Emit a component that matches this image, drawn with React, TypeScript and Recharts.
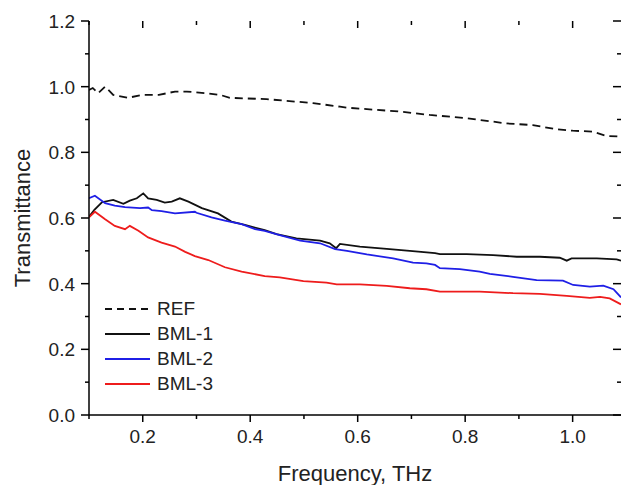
import { LineChart, Line, XAxis, YAxis } from 'recharts'

const FONT = '"Liberation Sans", Arial, sans-serif'
const PLOT_TOP = 21
const PLOT_RIGHT = 621

// Frequency (THz) / transmittance, one pair of arrays per curve
const refFreq = [0.1, 0.107, 0.117, 0.13, 0.145, 0.172, 0.2, 0.23, 0.26, 0.282, 0.319, 0.344, 0.362, 0.43, 0.517, 0.567, 0.58, 0.679, 0.734, 0.803, 0.877, 0.926, 0.97, 1.0, 1.037, 1.063, 1.09]
const refT = [0.99, 0.996, 0.98, 1.0, 0.975, 0.966, 0.975, 0.975, 0.985, 0.985, 0.98, 0.975, 0.966, 0.962, 0.95, 0.939, 0.936, 0.924, 0.914, 0.904, 0.888, 0.883, 0.87, 0.866, 0.863, 0.85, 0.848]

const bml1Freq = [0.1, 0.11, 0.124, 0.145, 0.164, 0.176, 0.189, 0.201, 0.21, 0.226, 0.241, 0.254, 0.269, 0.285, 0.31, 0.34, 0.365, 0.39, 0.427, 0.449, 0.486, 0.53, 0.548, 0.56, 0.567, 0.604, 0.654, 0.697, 0.744, 0.753, 0.803, 0.852, 0.896, 0.939, 0.976, 0.989, 0.998, 1.045, 1.082, 1.09]
const bml1T = [0.604, 0.625, 0.648, 0.655, 0.643, 0.653, 0.66, 0.675, 0.66, 0.655, 0.647, 0.65, 0.66, 0.65, 0.63, 0.614, 0.589, 0.579, 0.563, 0.551, 0.538, 0.531, 0.523, 0.508, 0.521, 0.513, 0.506, 0.5, 0.493, 0.49, 0.49, 0.487, 0.482, 0.482, 0.479, 0.47, 0.477, 0.477, 0.474, 0.47]

const bml2Freq = [0.1, 0.111, 0.13, 0.148, 0.167, 0.195, 0.21, 0.217, 0.235, 0.26, 0.297, 0.3, 0.328, 0.353, 0.384, 0.409, 0.427, 0.455, 0.493, 0.53, 0.558, 0.58, 0.617, 0.666, 0.703, 0.728, 0.744, 0.753, 0.79, 0.827, 0.846, 0.889, 0.933, 0.982, 1.001, 1.032, 1.057, 1.076, 1.09]
const bml2T = [0.66, 0.668, 0.645, 0.638, 0.633, 0.63, 0.632, 0.624, 0.621, 0.614, 0.619, 0.616, 0.602, 0.592, 0.581, 0.566, 0.561, 0.548, 0.531, 0.523, 0.505, 0.5, 0.489, 0.477, 0.464, 0.462, 0.457, 0.447, 0.444, 0.437, 0.43, 0.421, 0.411, 0.409, 0.396, 0.391, 0.394, 0.383, 0.358]

const bml3Freq = [0.1, 0.111, 0.13, 0.148, 0.167, 0.176, 0.192, 0.21, 0.235, 0.26, 0.279, 0.297, 0.322, 0.353, 0.384, 0.427, 0.455, 0.499, 0.542, 0.561, 0.604, 0.654, 0.697, 0.728, 0.753, 0.827, 0.889, 0.939, 0.989, 1.032, 1.051, 1.069, 1.09]
const bml3T = [0.602, 0.619, 0.596, 0.576, 0.566, 0.576, 0.561, 0.541, 0.525, 0.513, 0.497, 0.484, 0.472, 0.45, 0.437, 0.423, 0.419, 0.408, 0.403, 0.398, 0.398, 0.393, 0.386, 0.383, 0.376, 0.376, 0.371, 0.369, 0.363, 0.357, 0.36, 0.355, 0.337]

const xTicks = [0.1, 0.2, 0.3, 0.4, 0.5, 0.6, 0.7, 0.8, 0.9, 1.0]
const yTicks = [0, 0.1, 0.2, 0.3, 0.4, 0.5, 0.6, 0.7, 0.8, 0.9, 1.0, 1.1, 1.2]

const SERIES = [
  { name: 'REF', freq: refFreq, vals: refT, color: '#111111', dash: '8 5' },
  { name: 'BML-1', freq: bml1Freq, vals: bml1T, color: '#111111', dash: undefined },
  { name: 'BML-2', freq: bml2Freq, vals: bml2T, color: '#1f1fe6', dash: undefined },
  { name: 'BML-3', freq: bml3Freq, vals: bml3T, color: '#ee1c1c', dash: undefined },
]

const zip = (f: number[], v: number[]) => f.map((x, i) => ({ f: x, t: v[i] }))
const isMajor = (v: number) => Math.round(v * 10) % 2 === 0

// bottom tick + label, plus the mirrored inward tick on the top frame
// eslint-disable-next-line @typescript-eslint/no-explicit-any
function BottomTick({ x, y, payload }: any) {
  const major = isMajor(payload.value)
  const len = major ? 7 : 4
  return (
    <g>
      <line x1={x} x2={x} y1={y} y2={y + len} stroke="#000" strokeWidth={1.5} />
      <line x1={x} x2={x} y1={PLOT_TOP} y2={PLOT_TOP + len} stroke="#000" strokeWidth={1.5} />
      {major && (
        <text x={x} y={y + 28} textAnchor="middle" fontSize={19} fontFamily={FONT} fill="#222">
          {payload.value.toFixed(1)}
        </text>
      )}
    </g>
  )
}

// left tick + label, plus the mirrored inward tick on the right frame
// eslint-disable-next-line @typescript-eslint/no-explicit-any
function LeftTick({ x, y, payload }: any) {
  const major = isMajor(payload.value)
  const len = major ? 8 : 4
  return (
    <g>
      <line x1={x - len} x2={x} y1={y} y2={y} stroke="#000" strokeWidth={1.5} />
      <line x1={PLOT_RIGHT - len} x2={PLOT_RIGHT} y1={y} y2={y} stroke="#000" strokeWidth={1.5} />
      {major && (
        <text x={x - 14} y={y} dy="0.36em" textAnchor="end" fontSize={19} fontFamily={FONT} fill="#222">
          {payload.value.toFixed(1)}
        </text>
      )}
    </g>
  )
}

function LegendBox() {
  return (
    <div style={{ position: 'absolute', left: 105, top: 296, fontFamily: FONT, fontSize: 19, color: '#222' }}>
      {SERIES.map((s) => (
        <div key={s.name} style={{ display: 'flex', alignItems: 'center', height: 25 }}>
          <svg width={52} height={10}>
            <line x1={0} x2={45} y1={5} y2={5} stroke={s.color} strokeWidth={2} strokeDasharray={s.dash ? '7 5' : undefined} />
          </svg>
          <span>{s.name}</span>
        </div>
      ))}
    </div>
  )
}

export default function App() {
  return (
    <div style={{ position: 'absolute', left: 0, top: 0, width: 624, height: 485, background: '#fff' }}>
      <LineChart width={624} height={485} margin={{ top: PLOT_TOP, right: 624 - PLOT_RIGHT, left: 0, bottom: 0 }}>
        <XAxis
          xAxisId="b" dataKey="f" type="number" domain={[0.1, 1.09]} ticks={xTicks} allowDataOverflow
          height={70} tickSize={0} tickMargin={0} tickLine={false} tick={<BottomTick />}
          axisLine={{ stroke: '#000', strokeWidth: 1.5 }}
          label={{ value: 'Frequency, THz', position: 'insideBottom', offset: 4, fontSize: 22, fontFamily: FONT, fill: '#222' }}
        />
        <XAxis
          xAxisId="t" orientation="top" dataKey="f" type="number" domain={[0.1, 1.09]} allowDataOverflow
          height={0} tick={false} tickLine={false}
          axisLine={{ stroke: '#000', strokeWidth: 1.5 }}
        />
        <YAxis
          yAxisId="l" type="number" domain={[0, 1.2]} ticks={yTicks} allowDataOverflow
          width={89} tickSize={0} tickMargin={0} tickLine={false} tick={<LeftTick />}
          axisLine={{ stroke: '#000', strokeWidth: 1.5 }}
          label={{ value: 'Transmittance', angle: -90, position: 'insideLeft', offset: 22, fontSize: 22, fontFamily: FONT, fill: '#222', style: { textAnchor: 'middle' } }}
        />
        <YAxis
          yAxisId="r" orientation="right" type="number" domain={[0, 1.2]} allowDataOverflow
          width={0} tick={false} tickLine={false}
          axisLine={{ stroke: '#000', strokeWidth: 1.5 }}
        />
        {SERIES.map((s) => (
          <Line
            key={s.name}
            xAxisId="b"
            yAxisId="l"
            data={zip(s.freq, s.vals)}
            dataKey="t"
            name={s.name}
            type="linear"
            stroke={s.color}
            strokeWidth={1.8}
            strokeDasharray={s.dash}
            dot={false}
            activeDot={false}
            isAnimationActive={false}
          />
        ))}
      </LineChart>
      <LegendBox />
    </div>
  )
}
